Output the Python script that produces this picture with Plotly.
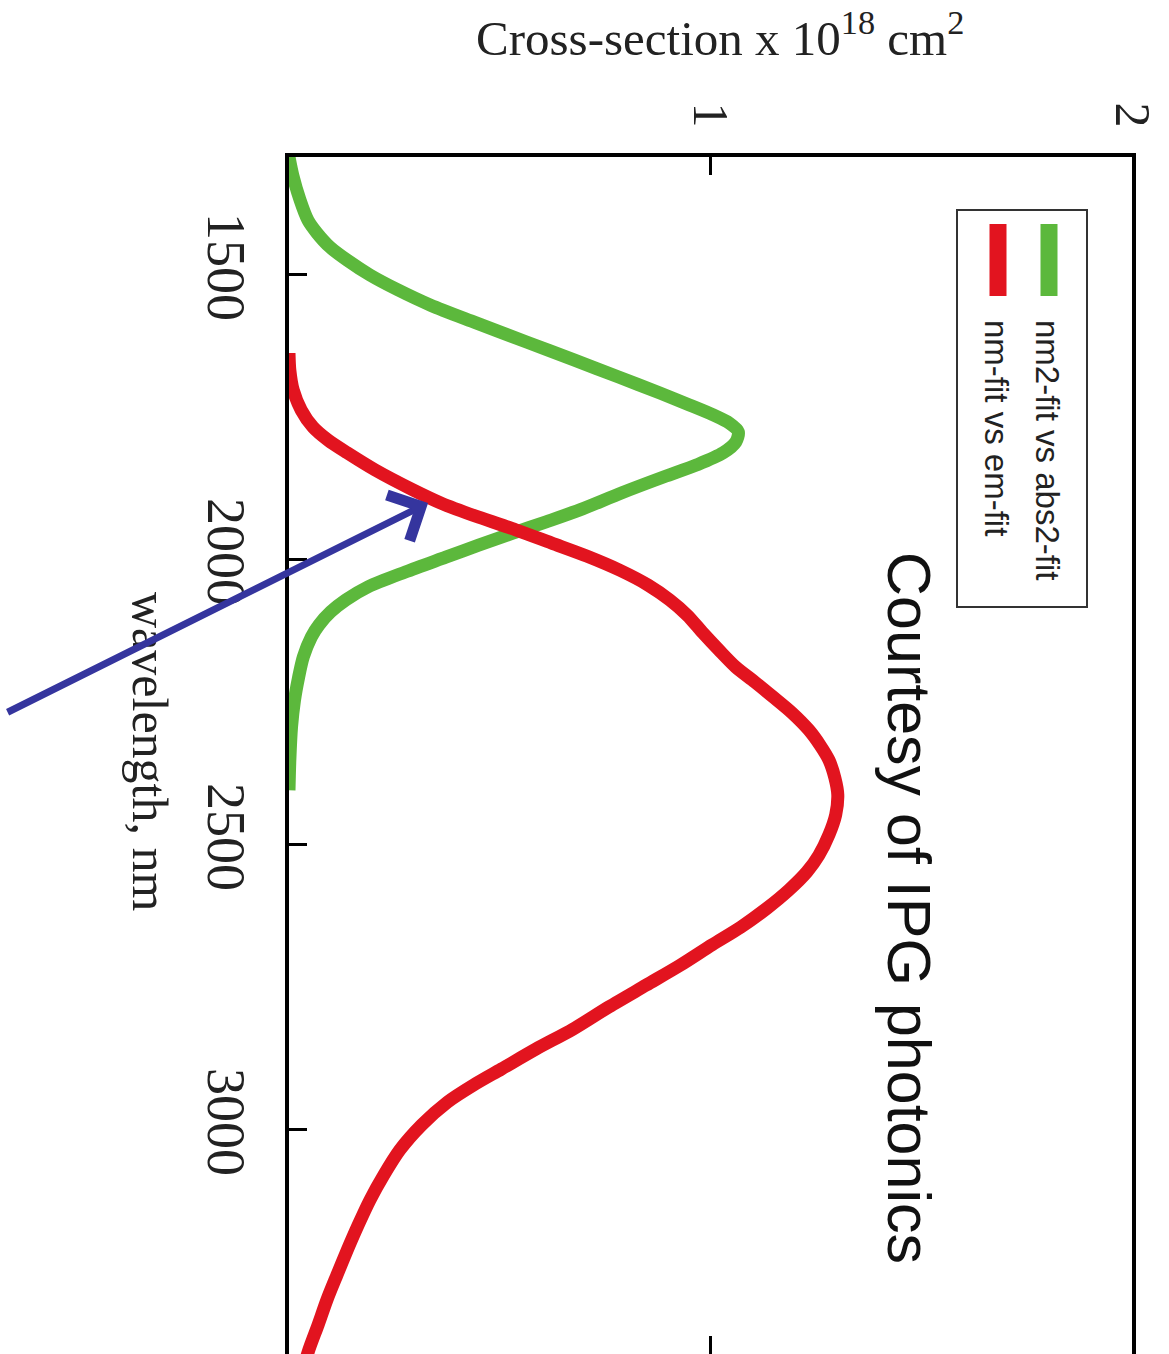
import plotly.graph_objects as go

# ---- data ----
abs_wavelength = [1293, 1325, 1368, 1404, 1426, 1451, 1474, 1500, 1526, 1553, 1584, 1618,
                  1649, 1679, 1707, 1728, 1745, 1760, 1775, 1793, 1812, 1833, 1854, 1882,
                  1912, 1933, 1953, 1974, 1995, 2021, 2047, 2070, 2091, 2114, 2135, 2170,
                  2205, 2246, 2293, 2351, 2404]
abs_cross = [0.0, 0.009, 0.026, 0.045, 0.066, 0.097, 0.138, 0.192, 0.258, 0.336, 0.444, 0.565,
             0.676, 0.782, 0.880, 0.950, 1.005, 1.045, 1.066, 1.060, 1.030, 0.968, 0.890, 0.790,
             0.690, 0.610, 0.531, 0.450, 0.372, 0.276, 0.188, 0.135, 0.099, 0.071, 0.053, 0.034,
             0.023, 0.013, 0.006, 0.002, 0.0]

em_wavelength = [1637, 1667, 1702, 1737, 1767, 1790, 1812, 1842, 1877, 1900, 1925, 1947,
                 1970, 1993, 2018, 2044, 2070, 2097, 2128, 2158, 2188, 2214, 2240, 2268,
                 2298, 2325, 2351, 2382, 2412, 2447, 2482, 2518, 2547, 2579, 2611, 2644,
                 2675, 2711, 2746, 2784, 2823, 2858, 2893, 2921, 2951, 2991, 3035, 3079,
                 3123, 3167, 3211, 3254, 3298, 3342, 3386, 3439]
em_cross = [0.0, 0.002, 0.010, 0.029, 0.057, 0.093, 0.138, 0.204, 0.294, 0.360, 0.450, 0.538,
            0.622, 0.706, 0.785, 0.852, 0.903, 0.945, 0.982, 1.020, 1.060, 1.105, 1.148, 1.193,
            1.233, 1.260, 1.281, 1.295, 1.302, 1.297, 1.281, 1.257, 1.229, 1.186, 1.134, 1.072,
            1.004, 0.928, 0.847, 0.759, 0.674, 0.586, 0.504, 0.438, 0.376, 0.315, 0.263, 0.225,
            0.192, 0.164, 0.138, 0.114, 0.090, 0.069, 0.047, 0.026]

series_names = ["nm2-fit vs abs2-fit", "nm-fit vs em-fit"]
wavelength_ticks = [1500, 2000, 2500, 3000]
cross_ticks = [1, 2]
cross_tick_labels = ["1", "2"]

GREEN = "#5CB83C"
RED = "#E2141F"
SERIF = "Liberation Serif, Times New Roman, serif"
SANS = "Liberation Sans, Arial, sans-serif"

fig = go.Figure()
fig.add_trace(go.Scatter(x=abs_cross, y=abs_wavelength, mode="lines", name=series_names[0],
                         line=dict(color=GREEN, width=13, shape="spline", smoothing=0.8)))
fig.add_trace(go.Scatter(x=em_cross, y=em_wavelength, mode="lines", name=series_names[1],
                         line=dict(color=RED, width=13, shape="spline", smoothing=0.8)))
fig.add_trace(go.Scatter(x=[], y=[], xaxis="x2", yaxis="y", showlegend=False))

W, H = 1169, 1354
L, R, T, B = 289, 37, 157, 0
pw, ph = W - L - R, H - T - B


def px(xp):
    return (xp - L) / pw


def py(yp):
    return (H - B - yp) / ph


shapes = [
    # legend box
    dict(type="rect", xref="paper", yref="paper", x0=px(957), x1=px(1087), y0=py(607), y1=py(210),
         line=dict(color="#333333", width=2), fillcolor="white"),
    dict(type="line", xref="paper", yref="paper", x0=px(1049), x1=px(1049), y0=py(224), y1=py(296),
         line=dict(color=GREEN, width=17)),
    dict(type="line", xref="paper", yref="paper", x0=px(998), x1=px(998), y0=py(224), y1=py(296),
         line=dict(color=RED, width=17)),
]

annotations = [
    dict(text="Cross-section x 10<sup>18</sup> cm<sup>2</sup>", xref="paper", yref="paper",
         x=px(720), y=py(35), xanchor="center", yanchor="middle", showarrow=False,
         font=dict(family=SERIF, size=49, color="#222")),
    dict(text="wavelength, nm", xref="paper", yref="paper", x=px(150), y=py(751),
         xanchor="center", yanchor="middle", textangle=90, showarrow=False,
         font=dict(family=SERIF, size=50, color="#222")),
    dict(text="Courtesy of IPG photonics", xref="paper", yref="paper", x=px(909), y=py(550),
         xanchor="center", yanchor="top", textangle=90, showarrow=False,
         font=dict(family=SANS, size=61, color="#111")),
    dict(text=series_names[0], xref="paper", yref="paper", x=px(1048), y=py(318),
         xanchor="center", yanchor="top", textangle=90, showarrow=False,
         font=dict(family=SANS, size=33, color="#222")),
    dict(text=series_names[1], xref="paper", yref="paper", x=px(997), y=py(318),
         xanchor="center", yanchor="top", textangle=90, showarrow=False,
         font=dict(family=SANS, size=33, color="#222")),
    # arrow pointing at the emission curve
    dict(text="", x=0.33, y=1900, xref="x", yref="y", showarrow=True, ax=-422, ay=210,
         axref="pixel", ayref="pixel", arrowhead=4, arrowsize=1.4, arrowwidth=7,
         arrowcolor="#35359E"),
]

fig.update_layout(
    width=W, height=H,
    margin=dict(l=L, r=R, t=T, b=B, autoexpand=False),
    paper_bgcolor="white", plot_bgcolor="white",
    showlegend=False,
    shapes=shapes, annotations=annotations,
    xaxis=dict(range=[0, 2], side="top", showline=True, linewidth=4, linecolor="black",
               ticks="inside", ticklen=18, tickwidth=3, tickcolor="black",
               tickvals=cross_ticks, ticktext=cross_tick_labels, tickangle=90,
               ticklabelstandoff=8,
               tickfont=dict(family=SERIF, size=50, color="#222"),
               showgrid=False, zeroline=False, mirror=False),
    xaxis2=dict(range=[0, 2], overlaying="x", side="bottom", anchor="y",
                ticks="inside", ticklen=18, tickwidth=3, tickcolor="black",
                tickvals=[cross_ticks[0]], showticklabels=False, showline=False,
                showgrid=False, zeroline=False),
    yaxis=dict(range=[3393, 1293], showline=True, mirror=True, linewidth=4, linecolor="black",
               ticks="inside", ticklen=18, tickwidth=3, tickcolor="black",
               tickvals=wavelength_ticks, tickangle=90, ticklabelstandoff=12,
               tickfont=dict(family=SERIF, size=54, color="#222"),
               showgrid=False, zeroline=False),
)

fig.write_html("out.html")
